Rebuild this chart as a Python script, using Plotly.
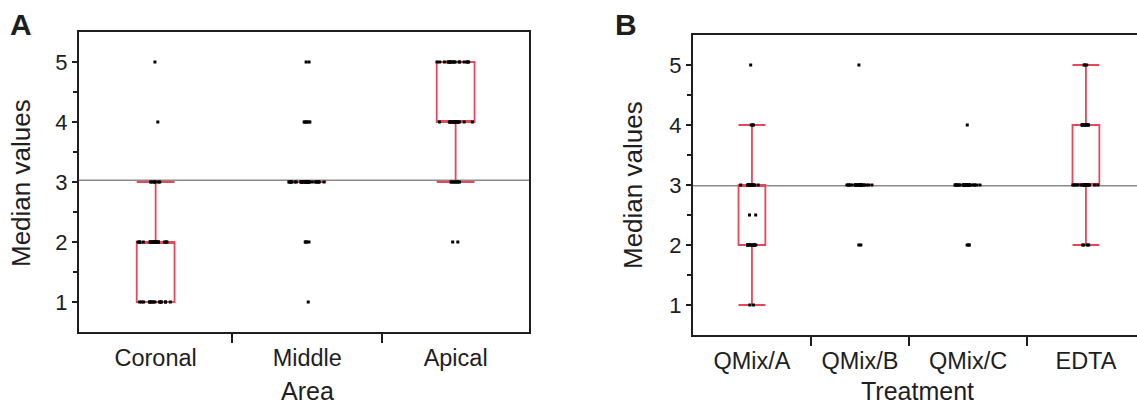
import numpy as np
import plotly.graph_objects as go

# ---------------- data ----------------
# Panel A: Area
area_names = ["Coronal", "Middle", "Apical"]
coronal_values = [1, 2, 3, 4, 5]
coronal_counts = [16, 22, 7, 1, 1]
middle_values = [1, 2, 3, 4, 5]
middle_counts = [1, 4, 33, 6, 2]
apical_values = [2, 3, 4, 5]
apical_counts = [2, 8, 17, 18]

# Panel B: Treatment
treat_names = ["QMix/A", "QMix/B", "QMix/C", "EDTA"]
qmixa_values = [1, 2, 2.5, 3, 4, 5]
qmixa_counts = [2, 12, 2, 16, 3, 1]
qmixb_values = [2, 3, 5]
qmixb_counts = [2, 27, 1]
qmixc_values = [2, 3, 4]
qmixc_counts = [3, 32, 1]
edta_values = [2, 3, 4, 5]
edta_counts = [4, 19, 10, 3]

y_ticks = [1, 2, 3, 4, 5]
y_minor = [1.5, 2.5, 3.5, 4.5]

# ---------------- styles ----------------
RED = "#e5475b"
INK = "#1e1e1e"
FONT = "Liberation Sans, Arial, sans-serif"
W, H = 1137, 406

def expand(vals, cnts):
    return np.repeat(np.array(vals, dtype=float), cnts)

groups_a = [expand(coronal_values, coronal_counts),
            expand(middle_values, middle_counts),
            expand(apical_values, apical_counts)]
groups_b = [expand(qmixa_values, qmixa_counts),
            expand(qmixb_values, qmixb_counts),
            expand(qmixc_values, qmixc_counts),
            expand(edta_values, edta_counts)]

fig = go.Figure()

def add_panel(groups, names, xa, ya, box_w):
    sizes = [len(g) for g in groups]
    edges = np.concatenate([[0], np.cumsum(sizes)])
    centers = (edges[:-1] + edges[1:]) / 2
    for g, c, n in zip(groups, centers, names):
        fig.add_trace(go.Box(
            y=g, x0=c, name=n, width=box_w,
            xaxis=xa, yaxis=ya,
            boxpoints="all", jitter=1, pointpos=0,
            whiskerwidth=1,
            fillcolor="rgba(0,0,0,0)",
            line=dict(color=RED, width=1.8),
            marker=dict(color="black", size=3, symbol="square"),
            showlegend=False, hoverinfo="y",
        ))
    allv = np.concatenate(groups)
    return centers, edges[1:-1], float(allv.mean()), edges[-1]

cA, dA, mA, totA = add_panel(groups_a, area_names, "x", "y", 11.6)
cB, dB, mB, totB = add_panel(groups_b, treat_names, "x2", "y2", 8.2)

# grand mean lines
for xr, yr, m in [("x domain", "y", mA), ("x2 domain", "y2", mB)]:
    fig.add_shape(type="line", xref=xr, yref=yr, x0=0, x1=1, y0=m, y1=m,
                  line=dict(color="#8a8a8a", width=1.5), layer="below")

axis_common = dict(showgrid=False, zeroline=False, showline=True,
                   linecolor=INK, linewidth=2)

def yaxis(domain, mirror):
    return dict(axis_common, domain=domain, range=[0.5, 5.5],
                tickmode="array", tickvals=y_ticks, ticktext=[str(v) for v in y_ticks],
                ticks="outside", ticklen=5, tickwidth=1.5, tickcolor=INK,
                minor=dict(tickmode="array", tickvals=y_minor, ticks="outside",
                           ticklen=4, tickwidth=1.5, tickcolor=INK),
                tickfont=dict(size=22, color=INK, family=FONT),
                mirror=mirror)

def xaxis(domain, rng, centers, dividers, names, anchor, mirror):
    return dict(axis_common, domain=domain, range=rng, anchor=anchor,
                tickmode="array", tickvals=list(centers), ticktext=names,
                ticks="", ticklabelstandoff=4,
                minor=dict(tickmode="array", tickvals=list(dividers), ticks="outside",
                           ticklen=9, tickwidth=1.5, tickcolor=INK),
                tickfont=dict(size=23.5, color=INK, family=FONT),
                mirror=mirror)

fig.update_layout(
    width=W, height=H,
    margin=dict(l=0, r=0, t=0, b=0),
    paper_bgcolor="white", plot_bgcolor="white",
    font=dict(family=FONT, color=INK),
    xaxis=xaxis([79 / W, 529 / W], [0, totA], cA, dA, area_names, "y", True),
    yaxis=yaxis([74 / H, 374 / H], True),
    xaxis2=xaxis([693 / W, 1.0], [0, 135.6], cB, dB, treat_names, "y2", True),
    yaxis2=dict(yaxis([71 / H, 371 / H], False), anchor="x2"),
)

ann = [
    dict(text="<b>A</b>", x=21, y=24, size=30),
    dict(text="<b>B</b>", x=626, y=25, size=30),
    dict(text="Area", x=307, y=391, size=25),
    dict(text="Treatment", x=917, y=391, size=25),
]
for a in ann:
    fig.add_annotation(text=a["text"], xref="paper", yref="paper",
                       x=a["x"] / W, y=1 - a["y"] / H, showarrow=False,
                       xanchor="center", yanchor="middle",
                       font=dict(size=a["size"], color=INK, family=FONT))
for xc, yc in [(21, 183), (633, 185)]:
    fig.add_annotation(text="Median values", xref="paper", yref="paper",
                       x=xc / W, y=1 - yc / H, showarrow=False, textangle=-90,
                       xanchor="center", yanchor="middle",
                       font=dict(size=26, color=INK, family=FONT))

fig.write_html("out.html",
               config={"displayModeBar": False},
               post_script="document.body.style.margin='0';document.body.style.overflow='hidden';")
